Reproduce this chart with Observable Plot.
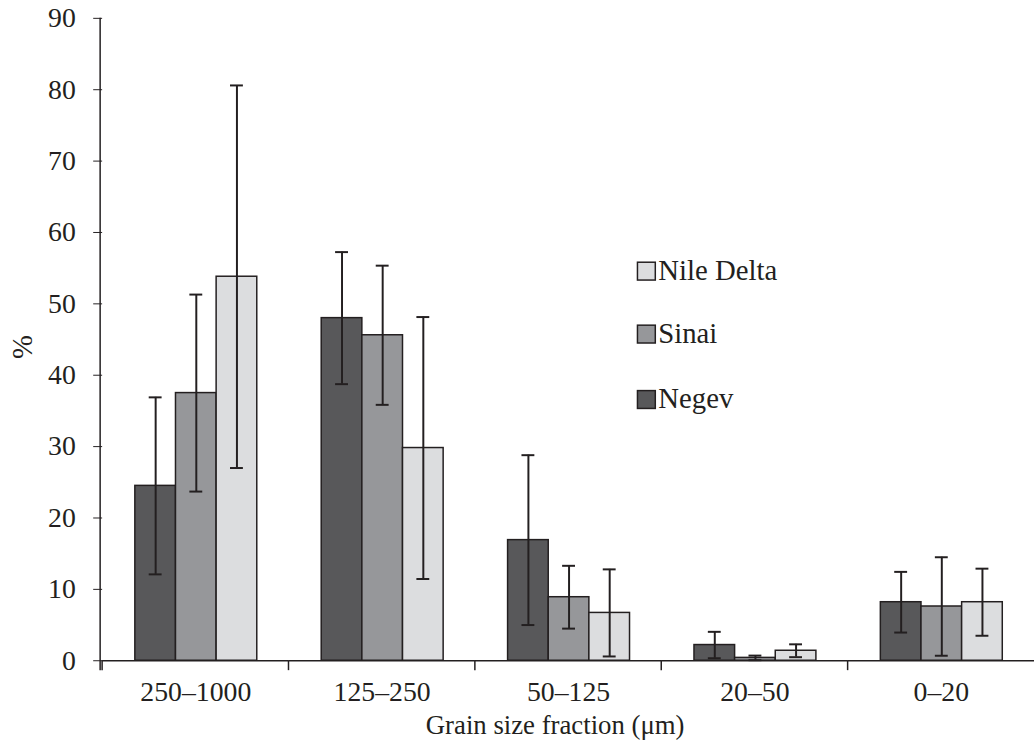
<!DOCTYPE html>
<html><head><meta charset="utf-8">
<script src="https://cdn.jsdelivr.net/npm/d3@7"></script>
<script src="https://cdn.jsdelivr.net/npm/@observablehq/plot@0.6"></script>
<style>
html,body{margin:0;padding:0;background:#fff;overflow:hidden;}
#wrap{position:relative;width:1035px;height:747px;overflow:hidden;}
</style></head><body><div id="wrap"></div>
<script>
const categories = ["250–1000", "125–250", "50–125", "20–50", "0–20"];
const series = ["Negev", "Sinai", "Nile Delta"];
const negevValues = [24.5, 48.0, 16.9, 2.2, 8.2];
const negevErrors = [12.4, 9.25, 11.9, 1.85, 4.25];
const sinaiValues = [37.5, 45.6, 8.9, 0.4, 7.6];
const sinaiErrors = [13.8, 9.75, 4.4, 0.32, 6.9];
const nileValues = [53.8, 29.8, 6.7, 1.4, 8.2];
const nileErrors = [26.8, 18.35, 6.1, 0.9, 4.7];
const colors = ["#58585a", "#96979a", "#dcdddf"];
const yTicks = [0, 10, 20, 30, 40, 50, 60, 70, 80, 90];

const valueSets = [negevValues, sinaiValues, nileValues];
const errorSets = [negevErrors, sinaiErrors, nileErrors];
const rows = [];
categories.forEach((cat, i) => series.forEach((s, j) => {
  rows.push({cat, series: s, value: valueSets[j][i], err: errorSets[j][i]});
}));

const ink = "#231f20";
const font = "'Liberation Serif', 'Times New Roman', serif";
const chart = Plot.plot({
  width: 1044, height: 747,
  marginLeft: 101, marginRight: 0, marginTop: 18, marginBottom: 81,
  style: {fontFamily: font, fontSize: "28px", color: ink, background: "#fff"},
  fx: {domain: categories, padding: 0, label: null, tickSize: 0, tickPadding: 21},
  x: {domain: series, paddingInner: 0, paddingOuter: 0.744, axis: null},
  y: {domain: [0, 90], ticks: yTicks, tickSize: 9, tickPadding: 18, label: null},
  color: {domain: series, range: colors},
  marks: [
    Plot.barY(rows, {fx: "cat", x: "series", y: "value", fill: "series", stroke: ink, strokeWidth: 1.5}),
    Plot.ruleX(rows, {fx: "cat", x: "series", y1: d => d.value - d.err, y2: d => d.value + d.err, stroke: ink, strokeWidth: 2}),
    Plot.tickY(rows, {fx: "cat", x: "series", y: d => d.value - d.err, stroke: ink, strokeWidth: 2, inset: 14}),
    Plot.tickY(rows, {fx: "cat", x: "series", y: d => d.value + d.err, stroke: ink, strokeWidth: 2, inset: 14}),
    Plot.ruleY([0], {stroke: ink, strokeWidth: 1.5})
  ]
});
document.getElementById("wrap").appendChild(chart);

const svg = d3.select(chart);
const ys = chart.scale("y"), fxs = chart.scale("fx");
const y0 = ys.apply(0), yTop = ys.apply(90);
svg.append("line").attr("x1", 101).attr("x2", 101).attr("y1", yTop).attr("y2", y0 + 10)
  .attr("stroke", ink).attr("stroke-width", 1.5);
categories.forEach(c => {
  const x = fxs.apply(c);
  svg.append("line").attr("x1", x).attr("x2", x).attr("y1", y0).attr("y2", y0 + 10)
    .attr("stroke", ink).attr("stroke-width", 1.5);
});
// y-axis title
svg.append("text").attr("transform", `translate(22,${(y0 + yTop) / 2 + 8}) rotate(-90)`)
  .attr("text-anchor", "middle").attr("dy", "0.35em").attr("font-family", font).attr("font-size", 29)
  .attr("fill", ink).text("%");
// x-axis title
svg.append("text").attr("x", 560).attr("y", 740)
  .attr("text-anchor", "middle").attr("font-family", font).attr("font-size", 27)
  .attr("fill", ink).text("Grain size fraction (μm)");
// legend (top to bottom: Nile Delta, Sinai, Negev)
const legend = svg.append("g").attr("font-family", font).attr("font-size", 29).attr("fill", ink).attr("text-anchor", "start");
const legendY = [273.5, 337, 403];
[2, 1, 0].forEach((j, k) => {
  legend.append("rect").attr("x", 643).attr("y", legendY[k] - 9).attr("width", 18).attr("height", 18)
    .attr("fill", colors[j]).attr("stroke", ink).attr("stroke-width", 1.5);
  legend.append("text").attr("x", 664).attr("y", legendY[k]).attr("dy", "0.3em").text(series[j]);
});
</script></body></html>
